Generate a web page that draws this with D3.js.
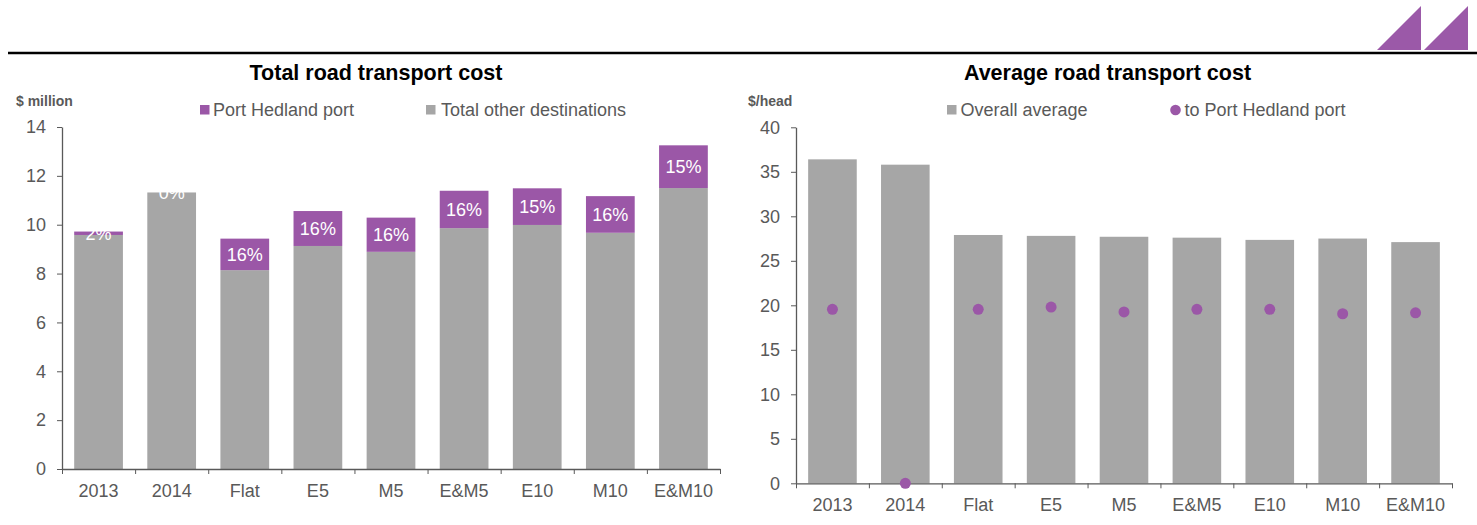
<!DOCTYPE html>
<html>
<head>
<meta charset="utf-8">
<script src="https://cdn.jsdelivr.net/npm/d3@7"></script>
<style>
  body { margin: 0; background: #fff; }
  svg { font-family: "Liberation Sans", Arial, sans-serif; }
  .axis path, .axis line { stroke: #595959; }
  .axis text { fill: #595959; font-size: 18px; }
</style>
</head>
<body>
<script>
// Data
const categories = ['2013', '2014', 'Flat', 'E5', 'M5', 'E&M5', 'E10', 'M10', 'E&M10'];
const otherDestinations = [9.58, 11.32, 8.14, 9.13, 8.89, 9.86, 9.99, 9.67, 11.5];
const portHedland = [0.14, 0, 1.29, 1.43, 1.4, 1.53, 1.5, 1.5, 1.75];
const shareLabels = ['2%', '0%', '16%', '16%', '16%', '16%', '15%', '16%', '15%'];
const overallAverage = [36.4, 35.8, 27.9, 27.8, 27.7, 27.6, 27.35, 27.5, 27.1];
const toPortHedland = [19.55, 0, 19.55, 19.8, 19.25, 19.55, 19.55, 19.05, 19.15];
const leftTicks = [0, 2, 4, 6, 8, 10, 12, 14];
const rightTicks = [0, 5, 10, 15, 20, 25, 30, 35, 40];

const grey = '#a6a6a6';
const purple = '#9b57a7';
const width = 1477;
const height = 525;

const svg = d3
    .select('body')
    .append('svg')
    .attr('width', width)
    .attr('height', height);

// Header rule and logo
svg.append('line')
    .attr('x1', 8).attr('x2', width)
    .attr('y1', 53).attr('y2', 53)
    .attr('stroke', '#000')
    .attr('stroke-width', 2.5);

[1377, 1424].forEach(x0 => {
    svg.append('path')
        .attr('d', `M${x0},50 L${x0 + 44},6 L${x0 + 44},50 Z`)
        .attr('fill', '#9b59a8');
});

// Shared drawing of axes
function drawAxes(g, xScale, yScale, ticks, y0) {
    const r = xScale.range();
    g.append('g')
        .attr('class', 'axis')
        .attr('transform', `translate(${r[0]},0)`)
        .call(d3.axisLeft(yScale).tickValues(ticks).tickSizeInner(5).tickSizeOuter(0).tickPadding(11))
        .call(a => a.select('.domain').attr('stroke-width', 1.3));

    // boundary tick marks between categories
    const edge = d3.scaleLinear().domain([0, categories.length]).range(r);
    g.append('g')
        .attr('class', 'axis')
        .attr('transform', `translate(0,${y0})`)
        .call(d3.axisBottom(edge).ticks(categories.length).tickFormat('').tickSizeInner(5).tickSizeOuter(0))
        .call(a => a.select('.domain').attr('stroke-width', 1.3));

    g.append('g')
        .attr('class', 'axis')
        .attr('transform', `translate(0,${y0})`)
        .call(d3.axisBottom(xScale).tickSize(0).tickPadding(15))
        .call(a => a.select('.domain').remove());
}

// ---------- Left chart: Total road transport cost ----------
const left = svg.append('g');
const x1 = d3.scaleBand().domain(categories).range([62, 720]).paddingInner(1 / 3).paddingOuter(1 / 6);
const y1 = d3.scaleLinear().domain([0, 14]).range([469, 127]);

const stackData = categories.map((c, i) => ({
    cat: c,
    other: otherDestinations[i],
    port: portHedland[i],
    label: shareLabels[i]
}));
const stacked = d3.stack().keys(['other', 'port'])(stackData);
const colors = { other: grey, port: purple };

left.selectAll('g.series')
    .data(stacked)
    .join('g')
    .attr('fill', d => colors[d.key])
    .selectAll('rect')
    .data(d => d)
    .join('rect')
    .attr('x', d => x1(d.data.cat))
    .attr('width', x1.bandwidth())
    .attr('y', d => y1(d[1]))
    .attr('height', d => y1(d[0]) - y1(d[1]));

left.selectAll('text.share')
    .data(stacked[1])
    .join('text')
    .attr('class', 'share')
    .attr('x', d => x1(d.data.cat) + x1.bandwidth() / 2)
    .attr('y', d => (y1(d[0]) + y1(d[1])) / 2)
    .attr('dy', '0.35em')
    .attr('text-anchor', 'middle')
    .attr('fill', '#fff')
    .style('font-size', '18px')
    .text(d => d.data.label);

drawAxes(left, x1, y1, leftTicks, 469);

left.append('text')
    .attr('x', 376).attr('y', 80)
    .attr('text-anchor', 'middle')
    .style('font-size', '21.5px').style('font-weight', 'bold')
    .text('Total road transport cost');

left.append('text')
    .attr('x', 16).attr('y', 106)
    .attr('fill', '#595959')
    .style('font-size', '14px').style('font-weight', 'bold')
    .text('$ million');

// legend
left.append('rect').attr('x', 200).attr('y', 105).attr('width', 9.5).attr('height', 9.5).attr('fill', purple);
left.append('text').attr('x', 213).attr('y', 115.5).attr('fill', '#595959').style('font-size', '18px').text('Port Hedland port');
left.append('rect').attr('x', 426).attr('y', 105).attr('width', 9.5).attr('height', 9.5).attr('fill', grey);
left.append('text').attr('x', 441).attr('y', 115.5).attr('fill', '#595959').style('font-size', '18px').text('Total other destinations');

// ---------- Right chart: Average road transport cost ----------
const right = svg.append('g');
const x2 = d3.scaleBand().domain(categories).range([796, 1452]).paddingInner(1 / 3).paddingOuter(1 / 6);
const y2 = d3.scaleLinear().domain([0, 40]).range([483.3, 127.3]);

right.selectAll('rect.avg')
    .data(overallAverage)
    .join('rect')
    .attr('class', 'avg')
    .attr('fill', grey)
    .attr('x', (d, i) => x2(categories[i]))
    .attr('width', x2.bandwidth())
    .attr('y', d => y2(d))
    .attr('height', d => y2(0) - y2(d));

drawAxes(right, x2, y2, rightTicks, 483.3);

right.selectAll('circle.port')
    .data(toPortHedland)
    .join('circle')
    .attr('class', 'port')
    .attr('fill', purple)
    .attr('cx', (d, i) => x2(categories[i]) + x2.bandwidth() / 2)
    .attr('cy', d => y2(d))
    .attr('r', 5.5);

right.append('text')
    .attr('x', 1107.5).attr('y', 80)
    .attr('text-anchor', 'middle')
    .style('font-size', '21.5px').style('font-weight', 'bold')
    .text('Average road transport cost');

right.append('text')
    .attr('x', 748).attr('y', 106)
    .attr('fill', '#595959')
    .style('font-size', '14px').style('font-weight', 'bold')
    .text('$/head');

right.append('rect').attr('x', 947).attr('y', 105).attr('width', 9.5).attr('height', 9.5).attr('fill', grey);
right.append('text').attr('x', 960.5).attr('y', 115.5).attr('fill', '#595959').style('font-size', '18px').text('Overall average');
right.append('circle').attr('cx', 1175.5).attr('cy', 110).attr('r', 5.3).attr('fill', purple);
right.append('text').attr('x', 1184.5).attr('y', 115.5).attr('fill', '#595959').style('font-size', '18px').text('to Port Hedland port');
</script>
</body>
</html>
